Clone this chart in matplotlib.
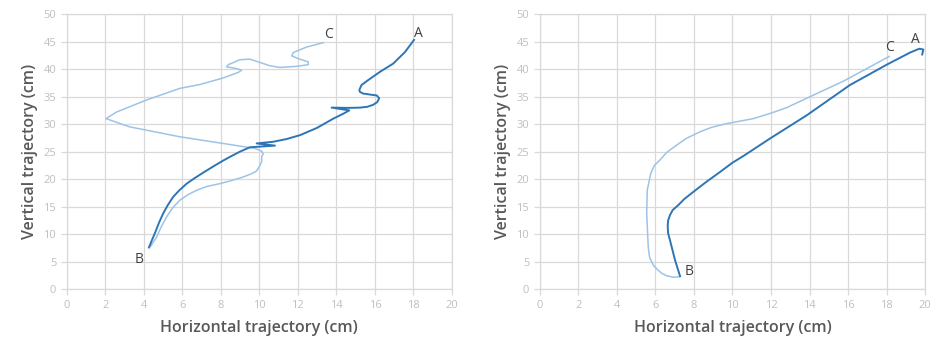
import numpy as np
import matplotlib.pyplot as plt

plt.rcParams['font.family'] = ['Open Sans', 'DejaVu Sans']

# Left panel: trajectory A -> B (dark) and B -> C (light)
left_dark_x = [4.27, 4.42, 4.58, 4.78, 5.01, 5.25, 5.53, 5.85, 6.23, 6.6, 7.09, 7.6,
               8.13, 8.55, 8.99, 9.25, 9.51, 10.81, 9.86, 10.72, 11.42, 12.11, 12.98,
               13.84, 14.36, 14.67, 13.75, 14.6, 15.22, 15.6, 15.9, 16.12, 16.22,
               16.1, 15.7, 15.39, 15.22, 15.19, 15.3, 15.65, 16.26, 16.95, 17.56, 18.03]
left_dark_y = [7.6, 8.9, 10.2, 12.0, 13.8, 15.3, 16.8, 18.0, 19.2, 20.1, 21.2, 22.3,
               23.4, 24.2, 25.0, 25.4, 25.8, 26.1, 26.5, 26.8, 27.3, 28.0, 29.3,
               31.0, 31.9, 32.5, 33.0, 32.95, 33.0, 33.15, 33.5, 34.0, 34.7,
               35.2, 35.4, 35.55, 35.85, 36.2, 37.1, 38.0, 39.5, 41.0, 43.1, 45.3]

left_light_x = [4.35, 4.67, 4.9, 5.19, 5.5, 5.88, 6.3, 6.75, 7.3, 7.96, 8.6, 9.16,
                9.6, 9.86, 10.03, 10.12, 10.12, 10.2, 10.12, 9.77, 8.47, 5.88, 3.28,
                2.04, 2.59, 4.15, 5.88, 6.92, 8.13, 8.91, 9.08, 8.82, 8.30, 8.39,
                8.99, 9.51, 9.86, 10.55, 11.07, 11.94, 12.54, 12.54, 12.02, 11.68,
                11.76, 12.45, 13.32]
left_light_y = [7.8, 9.5, 11.3, 13.2, 14.8, 16.2, 17.2, 18.0, 18.7, 19.2, 19.8, 20.4,
                21.0, 21.5, 22.5, 23.2, 24.1, 24.6, 25.1, 25.6, 26.3, 27.7, 29.5,
                31.0, 32.2, 34.4, 36.5, 37.2, 38.4, 39.4, 39.8, 40.1, 40.4, 40.8,
                41.7, 41.8, 41.4, 40.6, 40.3, 40.5, 40.8, 41.3, 41.9, 42.4,
                43.0, 44.0, 44.8]

# Right panel
right_dark_x = [7.28, 7.02, 6.76, 6.66, 6.64, 6.66, 6.76, 6.9, 7.19, 7.5, 7.97, 8.6,
                9.35, 10.0, 10.56, 11.95, 13.85, 16.09, 18.0, 19.21, 19.69, 19.9, 19.84]
right_dark_y = [2.4, 5.3, 8.9, 10.2, 11.4, 12.5, 13.5, 14.4, 15.3, 16.4, 17.7, 19.4,
                21.3, 23.0, 24.2, 27.4, 31.6, 37.1, 40.8, 43.0, 43.7, 43.55, 42.65]

right_light_x = [7.28, 6.93, 6.6, 6.33, 6.1, 5.89, 5.7, 5.63, 5.55, 5.58, 5.76, 5.95,
                 6.24, 6.6, 7.11, 7.6, 8.31, 8.9, 9.70, 11.08, 12.0, 12.81, 14.03,
                 15.75, 17.13, 18.13]
right_light_y = [2.3, 2.2, 2.45, 2.9, 3.6, 4.4, 5.8, 7.7, 13.8, 18.0, 21.05, 22.5,
                 23.5, 24.9, 26.2, 27.4, 28.6, 29.4, 30.1, 31.0, 32.0, 33.0, 35.0,
                 37.8, 40.4, 42.3]

# labels of the points (x, y)
left_labels = {'A': (18.25, 46.5), 'B': (3.77, 5.45), 'C': (13.6, 46.2)}
right_labels = {'A': (19.48, 45.4), 'B': (7.74, 3.3), 'C': (18.12, 43.9)}

dark = '#2e75b6'
light = '#9dc3e6'
grid_col = '#d9d9d9'

fig = plt.figure(figsize=(9.46, 3.55), dpi=100)
ax1 = fig.add_axes([0.0705, 0.185, 0.4073, 0.7755])
ax2 = fig.add_axes([0.5705, 0.185, 0.4076, 0.7755])

panels = [(ax1, left_dark_x, left_dark_y, left_light_x, left_light_y, left_labels),
          (ax2, right_dark_x, right_dark_y, right_light_x, right_light_y, right_labels)]

for ax, dx, dy, lx, ly, labs in panels:
    ax.plot(lx, ly, color=light, lw=1.1, solid_joinstyle='round', zorder=3)
    ax.plot(dx, dy, color=dark, lw=1.4, solid_joinstyle='round', zorder=4)
    for name, (tx, ty) in labs.items():
        ax.text(tx, ty, name, color='#404040', fontsize=10, ha='center', va='center')
    ax.set_xlim(0, 20)
    ax.set_ylim(0, 50)
    ax.set_xticks(np.arange(0, 21, 2))
    ax.set_yticks(np.arange(0, 51, 5))
    ax.grid(True, color=grid_col, lw=0.9)
    ax.set_axisbelow(True)
    for s in ax.spines.values():
        s.set_color(grid_col)
        s.set_linewidth(0.9)
    ax.tick_params(colors=grid_col, labelcolor='#bfbfbf', labelsize=8, length=4, width=0.9)
    ax.set_xlabel('Horizontal trajectory (cm)', fontsize=11.5, fontweight='semibold',
                  color='#595959', labelpad=7)
    ax.set_ylabel('Vertical trajectory (cm)', fontsize=11.5, fontweight='semibold',
                  color='#595959', labelpad=4)

fig.savefig('out.png', dpi=100)
